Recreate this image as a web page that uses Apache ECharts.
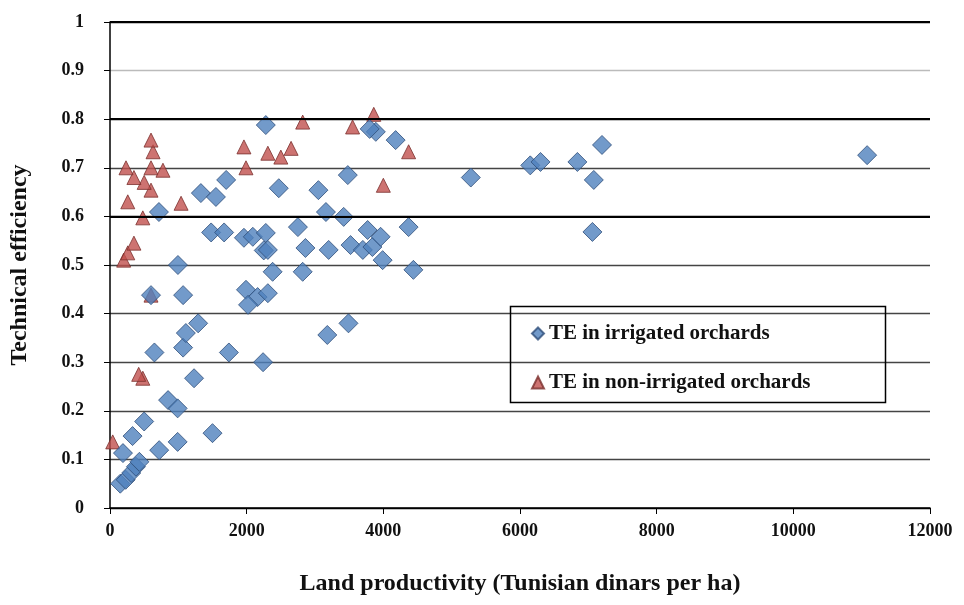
<!DOCTYPE html>
<html>
<head>
<meta charset="utf-8">
<script src="https://cdn.jsdelivr.net/npm/echarts@6/dist/echarts.min.js"></script>
<style>html,body{margin:0;padding:0;background:#fff}#c{width:964px;height:605px}</style>
</head>
<body>
<div id="c"></div>
<script>
// Data: [land productivity, technical efficiency]
var irrigatedX = [150,230,310,380,430,190,720,990,330,500,1500,850,990,1230,650,1740,1070,1110,1290,2240,3180,3490,600,1070,1990,2160,2310,2020,994,2380,2820,4440,3990,2250,2310,2860,3200,3520,3700,3840,1480,1670,1960,2090,2280,2750,3770,3960,4370,716,3160,3420,1330,1550,1700,2470,3050,3480,5280,6150,6300,6840,7080,7200,7060,11080,2280,3890,4180,3800];
var irrigatedY = [0.050,0.058,0.072,0.085,0.095,0.113,0.119,0.136,0.148,0.178,0.154,0.222,0.205,0.267,0.320,0.320,0.330,0.360,0.380,0.300,0.356,0.380,0.438,0.438,0.449,0.434,0.442,0.418,0.500,0.486,0.486,0.490,0.510,0.530,0.531,0.535,0.531,0.541,0.531,0.537,0.567,0.567,0.556,0.558,0.566,0.578,0.572,0.558,0.578,0.609,0.609,0.599,0.648,0.640,0.675,0.658,0.654,0.685,0.680,0.705,0.712,0.712,0.675,0.747,0.568,0.726,0.788,0.774,0.757,0.780];
var nonIrrigatedX = [40,480,420,600,200,260,350,480,260,1040,600,500,350,234,600,775,630,600,1960,1990,2310,2500,2650,2820,3550,3860,4370,4000];
var nonIrrigatedY = [0.136,0.267,0.275,0.438,0.510,0.525,0.545,0.597,0.630,0.627,0.654,0.670,0.680,0.700,0.700,0.695,0.733,0.757,0.743,0.700,0.730,0.722,0.740,0.794,0.784,0.810,0.733,0.664];
var seriesNames = ['TE in irrigated orchards','TE in non-irrigated orchards'];
var xTitle = 'Land productivity (Tunisian dinars per ha)';
var yTitle = 'Technical efficiency';

function pairs(xs, ys){ return xs.map(function(x,i){ return [x, ys[i]]; }); }

var font = '"Liberation Serif", "Times New Roman", serif';
var chart = echarts.init(document.getElementById('c'), null, {renderer:'canvas'});
chart.setOption({
  animation: false,
  backgroundColor: '#fff',
  grid: {left: 109, right: 34, top: 22, bottom: 97},
  xAxis: {
    type: 'value', min: 0, max: 12000, interval: 2000,
    name: xTitle, nameLocation: 'middle', nameGap: 64,
    nameTextStyle: {fontFamily: font, fontWeight: 'bold', fontSize: 24, color: '#111'},
    axisLine: {show: true, onZero: false, lineStyle: {color: '#000', width: 1.5}},
    axisTick: {show: true, inside: false, length: 6, lineStyle: {color: '#000'}},
    axisLabel: {fontFamily: font, fontWeight: 'bold', fontSize: 18, color: '#111', margin: 14,
      formatter: function(v){ return String(v); }},
    splitLine: {show: false}
  },
  yAxis: {
    type: 'value', min: 0, max: 1, interval: 0.1,
    name: yTitle, nameLocation: 'middle', nameGap: 78, nameRotate: 90,
    nameTextStyle: {fontFamily: font, fontWeight: 'bold', fontSize: 24, color: '#111'},
    axisLine: {show: true, lineStyle: {color: '#000', width: 1.5}},
    axisTick: {show: true, inside: false, length: 6, lineStyle: {color: '#000'}},
    axisLabel: {fontFamily: font, fontWeight: 'bold', fontSize: 18, color: '#111', margin: 26,
      formatter: function(v){ return String(Math.round(v*10)/10); }},
    splitLine: {show: true, lineStyle: {width: 1.3,
      color: ['#000','#444','#444','#444','#444','#444','#000','#444','#000','#bbb','#000']}}
  },
  legend: {
    orient: 'vertical', left: 526, top: 318,
    itemWidth: 12, itemHeight: 12, itemGap: 28,
    textStyle: {fontFamily: font, fontWeight: 'bold', fontSize: 21, color: '#111', lineHeight: 20},
    data: seriesNames
  },
  graphic: [{
    type: 'rect', left: 508, top: 304, z: 10,
    shape: {width: 375, height: 96},
    style: {fill: 'none', stroke: '#000', lineWidth: 1.5}
  }],
  series: [
    {
      name: seriesNames[0], type: 'scatter', symbol: 'diamond', symbolSize: 19,
      itemStyle: {color: '#4f81bd', borderColor: '#2f4f7a', borderWidth: 1},
      data: pairs(irrigatedX, irrigatedY), z: 3,
      markLine: {silent: true, symbol: 'none', label: {show: false},
        lineStyle: {color: '#000', width: 2.2, type: 'solid'},
        data: [{yAxis: 0.6}, {yAxis: 0.8}, {yAxis: 1}]}
    },
    {
      name: seriesNames[1], type: 'scatter', symbol: 'triangle', symbolSize: 14,
      itemStyle: {color: '#c0504d', borderColor: '#7a2f2d', borderWidth: 1},
      data: pairs(nonIrrigatedX, nonIrrigatedY), z: 2
    }
  ]
});
</script>
</body>
</html>
